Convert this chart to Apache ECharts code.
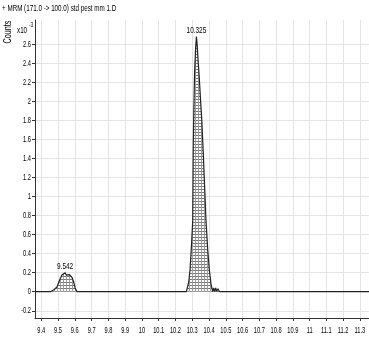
<!DOCTYPE html>
<html>
<head>
<meta charset="utf-8">
<script src="https://cdn.jsdelivr.net/npm/echarts@6/dist/echarts.min.js"></script>
<style>html,body{margin:0;padding:0;background:#fff}#c{width:369px;height:340px}</style>
</head>
<body>
<div id="c"></div>
<script>
// Retention time (min)
const rt = [
  9.3625, 9.455, 9.4595, 9.475, 9.4935, 9.509, 9.523, 9.533, 9.542, 9.549, 9.557, 9.568, 9.583, 9.592, 9.602, 9.6125, 9.62,
  9.682, 9.686, 9.690, 9.914, 9.918, 9.922, 10.092, 10.096, 10.100,
  10.265, 10.271, 10.279, 10.287, 10.296, 10.303, 10.306, 10.309, 10.314, 10.320, 10.325,
  10.329, 10.336, 10.342, 10.350, 10.357, 10.366, 10.374, 10.382, 10.392, 10.402, 10.412, 10.422,
  10.428, 10.434, 10.440, 10.446, 10.454, 10.462,
  10.729, 10.733, 10.737, 10.926, 10.930, 10.934, 11.354
];
// Counts (x10^-3)
const counts = [
  0, 0, 0.005, 0.02, 0.05, 0.12, 0.175, 0.185, 0.20, 0.175, 0.16, 0.18, 0.15, 0.11, 0.04, 0.0, 0,
  0, 0.015, 0, 0, 0.012, 0, 0, 0.012, 0,
  0, 0.01, 0.10, 0.23, 0.50, 0.75, 1.50, 1.85, 2.30, 2.55, 2.68,
  2.60, 2.40, 2.25, 2.00, 1.80, 1.45, 1.10, 0.75, 0.45, 0.23, 0.08, 0.0,
  0.04, 0.0, 0.04, 0.005, 0.03, 0,
  0, 0.015, 0, 0, 0.012, 0, 0
];
const peakRt = [10.325, 9.542];
const peakCounts = [2.68, 0.20];
const peakLabels = ['10.325', '9.542'];
const xTicks = [9.4, 9.5, 9.6, 9.7, 9.8, 9.9, 10, 10.1, 10.2, 10.3, 10.4, 10.5, 10.6, 10.7, 10.8, 10.9, 11, 11.1, 11.2, 11.3];
const xTickLabels = ['9.4', '9.5', '9.6', '9.7', '9.8', '9.9', '10', '10.1', '10.2', '10.3', '10.4', '10.5', '10.6', '10.7', '10.8', '10.9', '11', '11.1', '11.2', '11.3'];
const yTicks = [-0.2, 0, 0.2, 0.4, 0.6, 0.8, 1, 1.2, 1.4, 1.6, 1.8, 2, 2.2, 2.4, 2.6];
const yTickLabels = ['-0.2', '0', '0.2', '0.4', '0.6', '0.8', '1', '1.2', '1.4', '1.6', '1.8', '2', '2.2', '2.4', '2.6'];
const titleText = '+ MRM (171.0 -> 100.0) std pest mm 1.D';

const FONT = "'Liberation Sans', Arial, sans-serif";

// hatch pattern
const pc = document.createElement('canvas');
pc.width = 3; pc.height = 3;
const pctx = pc.getContext('2d');
pctx.fillStyle = '#ffffff'; pctx.fillRect(0, 0, 3, 3);
pctx.fillStyle = '#777777'; pctx.fillRect(0, 0, 3, 1);
pctx.fillStyle = '#9a9a9a'; pctx.fillRect(0, 0, 1, 3);

const chart = echarts.init(document.getElementById('c'), null, {renderer: 'canvas'});
chart.setOption({
  animation: false,
  backgroundColor: '#fff',
  grid: {left: 35, right: 0, top: 20, bottom: 22, containLabel: false},
  xAxis: {
    type: 'value', min: 9.3625, max: 11.354,
    axisLine: {show: true, onZero: false, lineStyle: {color: '#333', width: 1}},
    axisTick: {show: true, length: 3, customValues: xTicks, lineStyle: {color: '#333'}},
    axisLabel: {show: false, customValues: xTicks},
    splitLine: {show: true, lineStyle: {color: '#e4e4e4', width: 1}}
  },
  yAxis: {
    type: 'value', min: -0.276, max: 2.853,
    axisLine: {show: true, onZero: false, lineStyle: {color: '#333', width: 1}},
    axisTick: {show: true, length: 3, customValues: yTicks, lineStyle: {color: '#333'}},
    axisLabel: {show: false, customValues: yTicks},
    splitLine: {show: true, lineStyle: {color: '#e4e4e4', width: 1}}
  },
  series: [
    {
      type: 'line',
      data: rt.map((x, i) => [x, counts[i]]),
      symbol: 'none',
      lineStyle: {color: '#222', width: 1.2},
      areaStyle: {color: {image: pc, repeat: 'repeat'}, opacity: 1, origin: 0},
      z: 3
    }
  ]
});

// condensed text labels placed through the chart's own scales
const g = [];
const bottomY = chart.convertToPixel({yAxisIndex: 0}, -0.276);
const leftX = chart.convertToPixel({xAxisIndex: 0}, 9.3625);
xTicks.forEach((v, i) => {
  const px = chart.convertToPixel({xAxisIndex: 0}, v);
  g.push({type: 'text', x: px, y: bottomY + 12, scaleX: 0.6,
    style: {text: xTickLabels[i], font: '9.5px ' + FONT, fill: '#000', align: 'center', verticalAlign: 'middle'}});
});
yTicks.forEach((v, i) => {
  const py = chart.convertToPixel({yAxisIndex: 0}, v);
  g.push({type: 'text', x: leftX - 4, y: py, scaleX: 0.6,
    style: {text: yTickLabels[i], font: '9.5px ' + FONT, fill: '#000', align: 'right', verticalAlign: 'middle'}});
});
peakRt.forEach((v, i) => {
  const p = chart.convertToPixel({xAxisIndex: 0, yAxisIndex: 0}, [v, peakCounts[i]]);
  g.push({type: 'text', x: p[0], y: p[1] - 6, scaleX: 0.68,
    style: {text: peakLabels[i], font: '9.5px ' + FONT, fill: '#000', align: 'center', verticalAlign: 'middle'}});
});
g.push({type: 'text', x: 2, y: 8, scaleX: 0.66,
  style: {text: titleText, font: '9.5px ' + FONT, fill: '#000', align: 'left', verticalAlign: 'middle'}});
g.push({type: 'group', x: 8, y: 32, rotation: Math.PI / 2, children: [
  {type: 'text', x: 0, y: 0, scaleX: 0.72,
    style: {text: 'Counts', font: '10px ' + FONT, fill: '#000', align: 'center', verticalAlign: 'middle'}}
]});
g.push({type: 'text', x: 17, y: 30, scaleX: 0.66,
  style: {text: 'x10', font: '9.5px ' + FONT, fill: '#000', align: 'left', verticalAlign: 'middle'}});
g.push({type: 'text', x: 29, y: 25, scaleX: 0.66,
  style: {text: '-3', font: '7px ' + FONT, fill: '#000', align: 'left', verticalAlign: 'middle'}});
chart.setOption({graphic: g});
</script>
</body>
</html>
